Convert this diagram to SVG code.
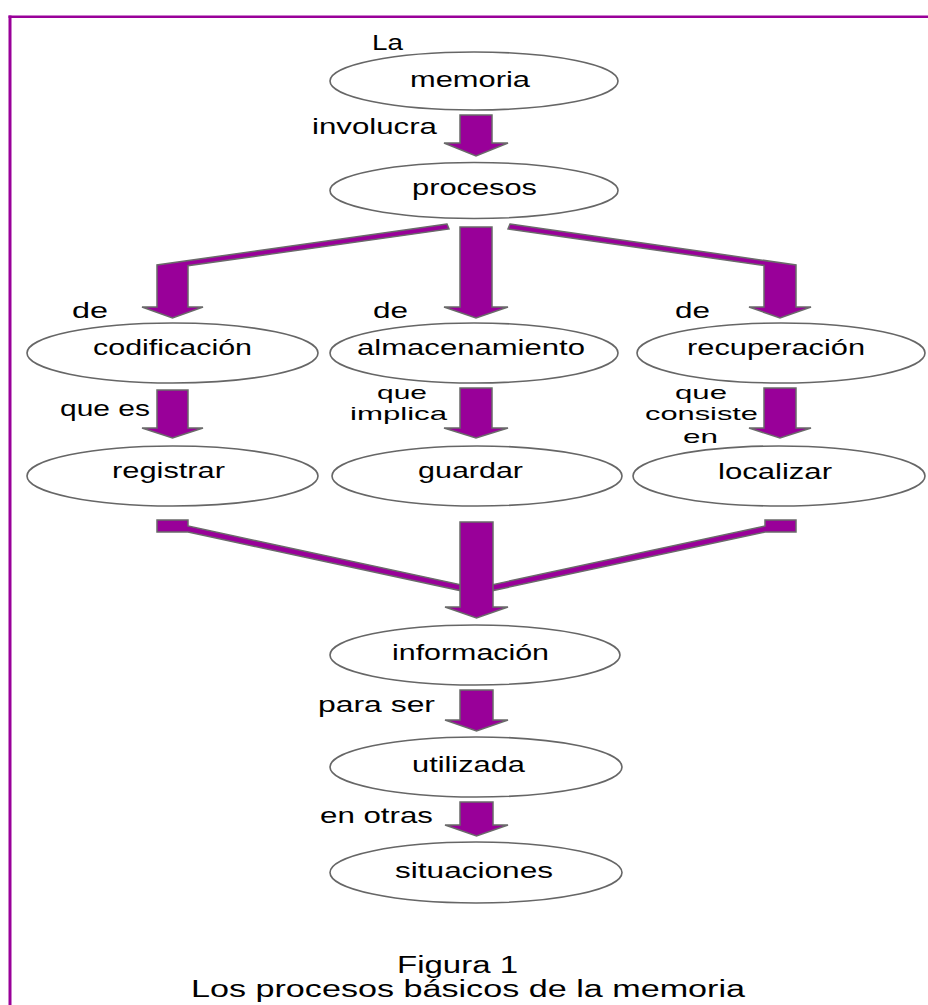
<svg xmlns="http://www.w3.org/2000/svg" width="928" height="1005" viewBox="0 0 928 1005">
<style>
.bg{fill:#ffffff}
.frame{fill:#990099}
.node ellipse{fill:#ffffff;stroke:#666666;stroke-width:1.6}
text{font-family:"Liberation Sans",Arial,sans-serif;font-size:22px;fill:#000000}
.c{text-anchor:middle}
.sm{font-size:19px}
.cap{font-size:23px}
.arrow{fill:#990099;stroke:#6a6a6a;stroke-width:1.5;stroke-linejoin:miter}
</style>
<rect class="bg" x="0" y="0" width="928" height="1005"/>
<g id="frame">
<rect class="frame" x="8.5" y="15.5" width="920" height="2.5"/>
<rect class="frame" x="8.5" y="15.5" width="3" height="990"/>
</g>
<g id="connectors">
<path class="arrow" d="M460,115 L492,115 L492,143 L508,143 L476,156 L444,143 L460,143 Z"/>
<path class="arrow" d="M447,224 L157,265 L157,307 L142,307 L172.5,318 L203,307 L188,307 L188,265.7 L449,229 Z"/>
<path class="arrow" d="M460,227 L492,227 L492,307 L508,307 L476,318 L444,307 L460,307 Z"/>
<path class="arrow" d="M510,224 L796,265 L796,307 L811,307 L780,318 L749,307 L764,307 L764,265.5 L508,229 Z"/>
<path class="arrow" d="M157,390 L188,390 L188,428 L203,428 L172.5,438 L142,428 L157,428 Z"/>
<path class="arrow" d="M460,388 L492,388 L492,428 L508,428 L476,438 L444,428 L460,428 Z"/>
<path class="arrow" d="M764,388 L796,388 L796,428 L811,428 L780,438 L749,428 L764,428 Z"/>
<path class="arrow" d="M157,520 L188,520 L188,526 L462,585 L462,591 L188,532 L157,532 Z"/>
<path class="arrow" d="M796,520 L765,520 L765,526 L491,585 L491,591 L765,532 L796,532 Z"/>
<path class="arrow" d="M460,522 L493,522 L493,607 L508,607 L476.5,618 L445,607 L460,607 Z"/>
<path class="arrow" d="M460,690 L493,690 L493,720 L508,720 L476.5,731 L445,720 L460,720 Z"/>
<path class="arrow" d="M460,802 L493,802 L493,825 L508,825 L476.5,836 L445,825 L460,825 Z"/>
<text x="312" y="134" textLength="125" lengthAdjust="spacingAndGlyphs">involucra</text>
<text x="72" y="318" textLength="36" lengthAdjust="spacingAndGlyphs">de</text>
<text x="373" y="318" textLength="35" lengthAdjust="spacingAndGlyphs">de</text>
<text x="675" y="318" textLength="35" lengthAdjust="spacingAndGlyphs">de</text>
<text x="60" y="416" textLength="90" lengthAdjust="spacingAndGlyphs">que es</text>
<text class="sm" x="377" y="399" textLength="50" lengthAdjust="spacingAndGlyphs">que</text>
<text class="sm" x="350" y="420" textLength="97" lengthAdjust="spacingAndGlyphs">implica</text>
<text class="sm" x="675" y="399" textLength="52" lengthAdjust="spacingAndGlyphs">que</text>
<text class="sm" x="645" y="420" textLength="113" lengthAdjust="spacingAndGlyphs">consiste</text>
<text class="sm" x="683" y="443" textLength="35" lengthAdjust="spacingAndGlyphs">en</text>
<text x="318" y="712" textLength="117" lengthAdjust="spacingAndGlyphs">para ser</text>
<text x="320" y="823" textLength="113" lengthAdjust="spacingAndGlyphs">en otras</text>
</g>
<g id="node-memoria" class="node">
<text x="372" y="50" textLength="31" lengthAdjust="spacingAndGlyphs">La</text>
<ellipse cx="474" cy="81" rx="144" ry="29"/>
<text class="c" x="470" y="87" textLength="120" lengthAdjust="spacingAndGlyphs">memoria</text>
</g>
<g id="node-procesos" class="node">
<ellipse cx="474" cy="190.5" rx="144" ry="28"/>
<text class="c" x="474.5" y="195" textLength="125" lengthAdjust="spacingAndGlyphs">procesos</text>
</g>
<g id="node-codificacion" class="node">
<ellipse cx="172.5" cy="353" rx="145.5" ry="30"/>
<text class="c" x="172.5" y="355" textLength="159" lengthAdjust="spacingAndGlyphs">codificación</text>
</g>
<g id="node-almacenamiento" class="node">
<ellipse cx="474" cy="353" rx="144" ry="30"/>
<text class="c" x="471" y="355" textLength="228" lengthAdjust="spacingAndGlyphs">almacenamiento</text>
</g>
<g id="node-recuperacion" class="node">
<ellipse cx="781" cy="353" rx="144" ry="30"/>
<text class="c" x="776" y="355" textLength="178" lengthAdjust="spacingAndGlyphs">recuperación</text>
</g>
<g id="node-registrar" class="node">
<ellipse cx="172.5" cy="476" rx="145.5" ry="30"/>
<text class="c" x="168.5" y="478" textLength="113" lengthAdjust="spacingAndGlyphs">registrar</text>
</g>
<g id="node-guardar" class="node">
<ellipse cx="477" cy="476" rx="145" ry="30"/>
<text class="c" x="470.5" y="478" textLength="105" lengthAdjust="spacingAndGlyphs">guardar</text>
</g>
<g id="node-localizar" class="node">
<ellipse cx="779" cy="476" rx="146" ry="30"/>
<text class="c" x="775" y="479" textLength="114" lengthAdjust="spacingAndGlyphs">localizar</text>
</g>
<g id="node-informacion" class="node">
<ellipse cx="475" cy="655" rx="145" ry="30"/>
<text class="c" x="470.5" y="660" textLength="157" lengthAdjust="spacingAndGlyphs">información</text>
</g>
<g id="node-utilizada" class="node">
<ellipse cx="476" cy="767" rx="146" ry="30"/>
<text class="c" x="468.5" y="772" textLength="113" lengthAdjust="spacingAndGlyphs">utilizada</text>
</g>
<g id="node-situaciones" class="node">
<ellipse cx="476" cy="872.5" rx="146" ry="30.5"/>
<text class="c" x="474" y="878" textLength="158" lengthAdjust="spacingAndGlyphs">situaciones</text>
</g>
<g id="caption">
<text class="c cap" x="457.5" y="973" textLength="121" lengthAdjust="spacingAndGlyphs">Figura 1</text>
<text class="c cap" x="468" y="997" textLength="554" lengthAdjust="spacingAndGlyphs">Los procesos básicos de la memoria</text>
</g>
</svg>
